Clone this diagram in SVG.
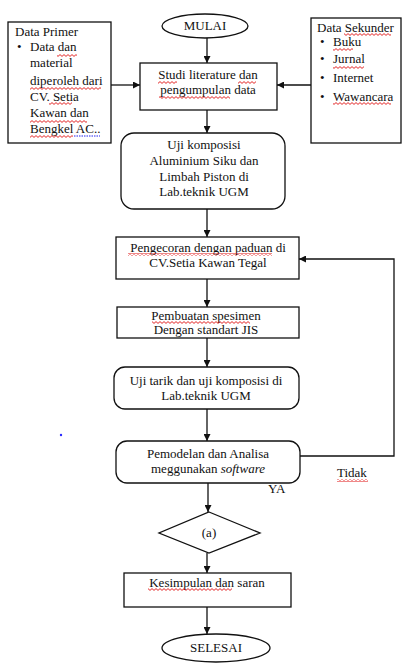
<svg xmlns="http://www.w3.org/2000/svg" width="404" height="664" viewBox="0 0 404 664">
<defs>
<style>
.b{fill:#fff;stroke:#111;stroke-width:1.3}
.t{font-family:"Liberation Serif","Times New Roman",serif;font-size:13px;fill:#111}
.c{text-anchor:middle}
.l{fill:none;stroke:#111;stroke-width:1.3}
.sq{fill:url(#sq)}
</style>
<pattern id="sq" width="4" height="3" patternUnits="userSpaceOnUse">
<path d="M0,0.6 L2,2.4 L4,0.6" fill="none" stroke="#e01010" stroke-width="0.9"/>
</pattern>
<marker id="ah" viewBox="0 0 8 8" refX="8" refY="4" markerWidth="7" markerHeight="7" markerUnits="userSpaceOnUse" orient="auto">
<path d="M0,0 L8,4 L0,8 z" fill="#111"/>
</marker>
</defs>
<rect width="404" height="664" fill="#fff"/>

<g id="connectors">
<line class="l" x1="207" y1="38" x2="207" y2="63" marker-end="url(#ah)"/>
<line class="l" x1="111" y1="85" x2="140" y2="85" marker-end="url(#ah)"/>
<line class="l" x1="311" y1="85" x2="277" y2="85" marker-end="url(#ah)"/>
<line class="l" x1="207" y1="110" x2="207" y2="133" marker-end="url(#ah)"/>
<line class="l" x1="207" y1="209" x2="207" y2="237" marker-end="url(#ah)"/>
<line class="l" x1="207" y1="279" x2="207" y2="307" marker-end="url(#ah)"/>
<line class="l" x1="207" y1="338" x2="207" y2="367" marker-end="url(#ah)"/>
<line class="l" x1="207" y1="409" x2="207" y2="441" marker-end="url(#ah)"/>
<line class="l" x1="208" y1="483" x2="208" y2="512" marker-end="url(#ah)"/>
<line class="l" x1="207" y1="553" x2="207" y2="573" marker-end="url(#ah)"/>
<line class="l" x1="207" y1="607" x2="207" y2="634" marker-end="url(#ah)"/>
<polyline class="l" points="300,456 394,456 394,259 299,259" marker-end="url(#ah)"/>
<text class="t" x="337" y="477">Tidak</text>
<rect class="sq" x="337" y="479" width="31" height="3"/>
<text class="t" x="268" y="493">YA</text>
</g>

<g id="mulai">
<ellipse class="b" cx="205" cy="26" rx="43" ry="12"/>
<text class="t c" x="205" y="30">MULAI</text>
</g>

<g id="data-primer">
<rect class="b" x="8" y="22" width="103" height="121"/>
<text class="t" x="15" y="36">Data Primer</text>
<text class="t" x="17" y="51">•</text>
<text class="t" x="30" y="51">Data dan</text>
<text class="t" x="30" y="67">material</text>
<text class="t" x="30" y="85">diperoleh dari</text>
<text class="t" x="30" y="101">CV. Setia</text>
<text class="t" x="30" y="117">Kawan dan</text>
<text class="t" x="30" y="133">Bengkel AC..</text>
<rect class="sq" x="57" y="54" width="20" height="3"/>
<rect class="sq" x="30" y="87" width="71" height="3"/>
<rect class="sq" x="49" y="102" width="23" height="3"/>
<rect class="sq" x="30" y="120" width="57" height="3"/>
<rect class="sq" x="30" y="135" width="43" height="3"/>
<line x1="74" y1="136" x2="100" y2="136" stroke="#2222ee" stroke-width="1" stroke-dasharray="1.5,1"/>
</g>

<g id="data-sekunder">
<rect class="b" x="311" y="18" width="90" height="125"/>
<text class="t" x="317" y="32">Data Sekunder</text>
<text class="t" x="320" y="46">•</text><text class="t" x="333" y="46">Buku</text>
<text class="t" x="320" y="63">•</text><text class="t" x="333" y="63">Jurnal</text>
<text class="t" x="320" y="82">•</text><text class="t" x="333" y="82">Internet</text>
<text class="t" x="320" y="101">•</text><text class="t" x="333" y="101">Wawancara</text>
<rect class="sq" x="344" y="33" width="47" height="3"/>
<rect class="sq" x="333" y="48" width="20" height="3"/>
<rect class="sq" x="333" y="66" width="31" height="3"/>
<rect class="sq" x="333" y="102" width="58" height="3"/>
</g>

<g id="studi">
<rect class="b" x="140" y="63" width="137" height="47"/>
<text class="t c" x="208" y="79">Studi literature dan</text>
<text class="t c" x="208" y="94">pengumpulan data</text>
<rect class="sq" x="158" y="81" width="19" height="3"/>
<rect class="sq" x="238" y="81" width="18" height="3"/>
<rect class="sq" x="159" y="96" width="71" height="3"/>
</g>

<g id="uji-komposisi">
<rect class="b" x="121" y="133" width="164" height="76" rx="13"/>
<text class="t c" x="204" y="149">Uji komposisi</text>
<text class="t c" x="204" y="165">Aluminium Siku dan</text>
<text class="t c" x="204" y="181">Limbah Piston di</text>
<text class="t c" x="204" y="196">Lab.teknik UGM</text>
</g>

<g id="pengecoran">
<rect class="b" x="116" y="237" width="183" height="42"/>
<text class="t c" x="208" y="252">Pengecoran dengan paduan di</text>
<text class="t c" x="208" y="267">CV.Setia Kawan Tegal</text>
<rect class="sq" x="128" y="253" width="144" height="3"/>
</g>

<g id="pembuatan">
<rect class="b" x="117" y="307" width="182" height="31"/>
<text class="t c" x="206" y="320" font-size="12">Pembuatan spesimen</text>
<text class="t c" x="206" y="334" font-size="12">Dengan standart JIS</text>
<rect class="sq" x="152" y="321" width="98" height="3"/>
</g>

<g id="uji-tarik">
<rect class="b" x="114" y="367" width="185" height="42" rx="11"/>
<text class="t c" x="206" y="385">Uji tarik dan uji komposisi di</text>
<text class="t c" x="206" y="400">Lab.teknik UGM</text>
</g>

<g id="pemodelan">
<rect class="b" x="116" y="441" width="184" height="42" rx="11"/>
<text class="t c" x="208" y="458">Pemodelan dan Analisa</text>
<text class="t c" x="208" y="473">meggunakan <tspan font-style="italic">software</tspan></text>
</g>

<circle id="dot" cx="61" cy="435" r="1.2" fill="#2b2bff"/>

<g id="keputusan">
<polygon class="b" points="209,512 260,533 209,553 159,533"/>
<text class="t c" x="209" y="537">(a)</text>
</g>

<g id="kesimpulan">
<rect class="b" x="124" y="573" width="167" height="34"/>
<text class="t c" x="207" y="587">Kesimpulan dan saran</text>
<rect class="sq" x="148" y="588" width="84" height="3"/>
</g>

<g id="selesai">
<ellipse class="b" cx="216" cy="648" rx="54" ry="14"/>
<text class="t c" x="216" y="652">SELESAI</text>
</g>
</svg>
